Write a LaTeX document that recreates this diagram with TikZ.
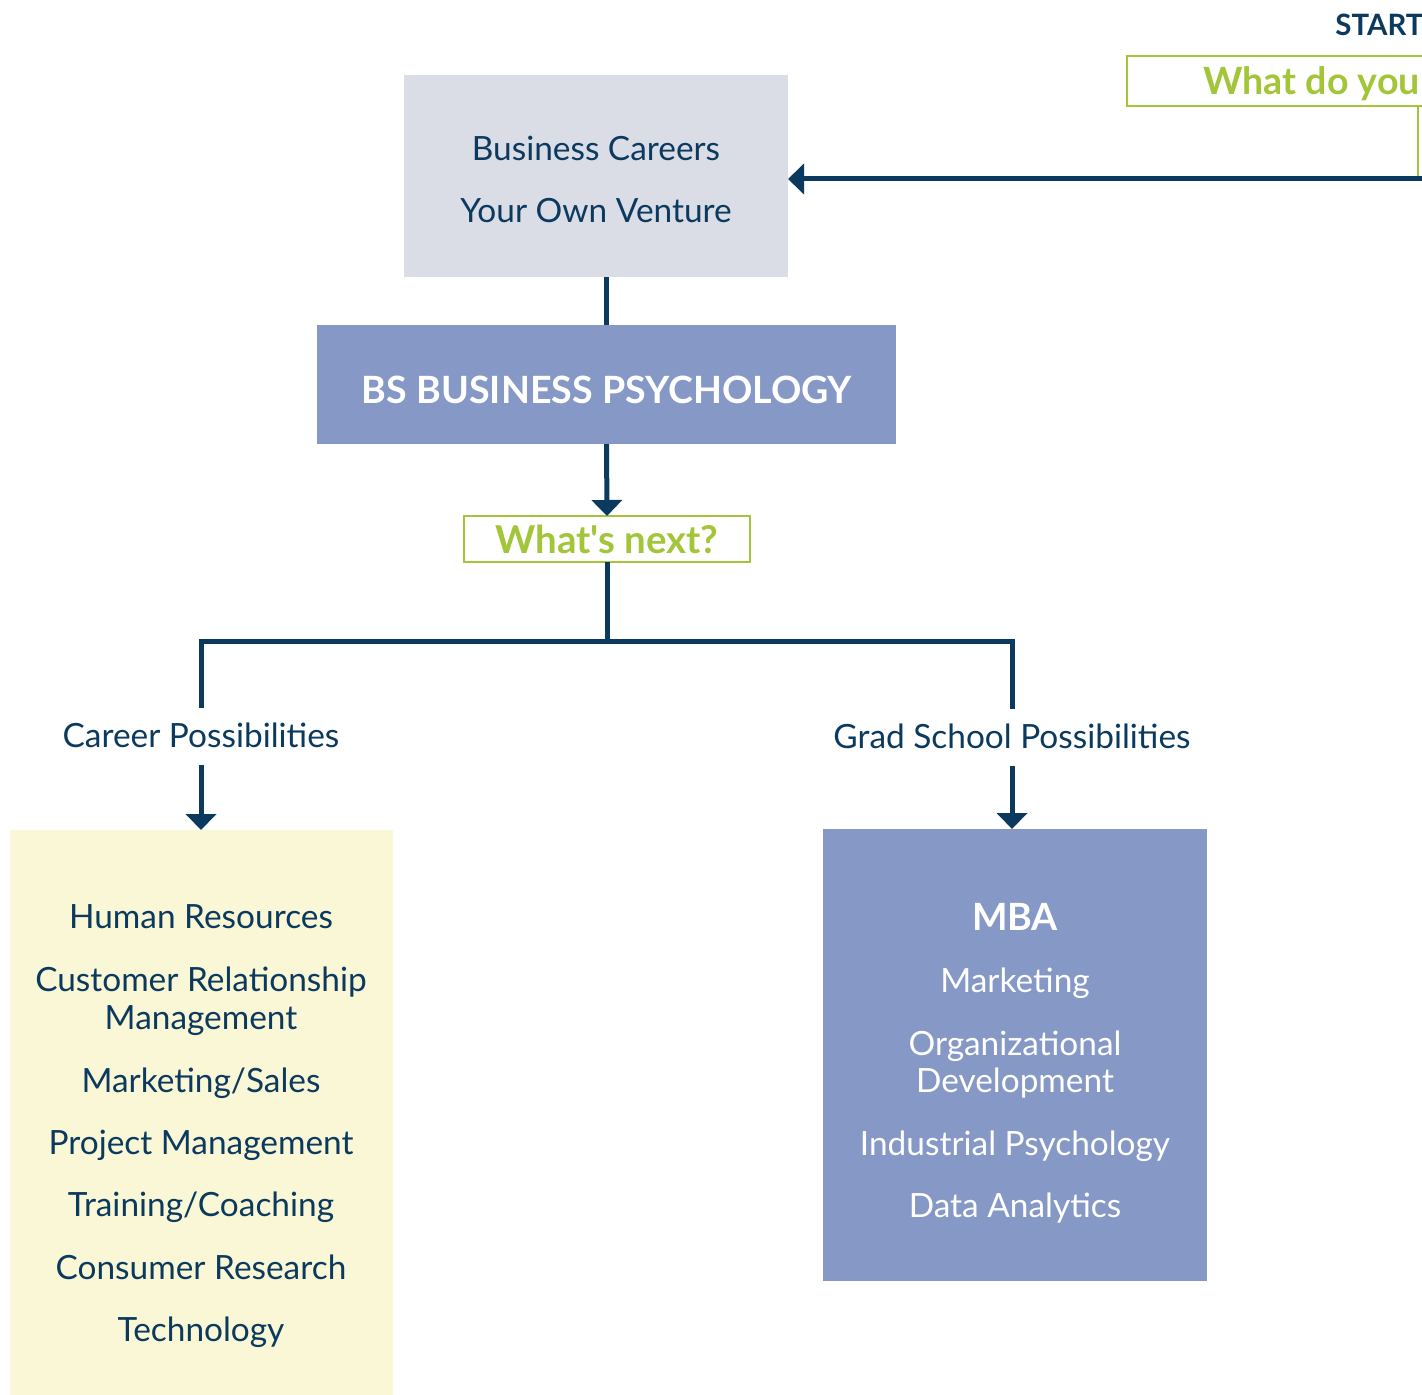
\documentclass[tikz,border=0pt]{standalone}
\usepackage{fontspec}
\setmainfont{Lato}[Ligatures=TeXOff]
\usetikzlibrary{arrows.meta}
\definecolor{navyline}{HTML}{0B3A5E}
\definecolor{greenline}{HTML}{A3C53A}
\definecolor{greybox}{HTML}{DADDE5}
\definecolor{bluebox}{HTML}{8698C6}
\definecolor{yellowbox}{HTML}{FAF7D6}
\begin{document}
\begin{tikzpicture}[x=0.5pt,y=-0.5pt,
        box/.style={anchor=north west,inner sep=0pt,outer sep=0pt},
        item/.style={anchor=base,inner sep=0pt,text=navyline,font=\fontsize{16.7pt}{20pt}\selectfont},
        link/.style={draw=navyline,line width=2.5pt},
        arrowlink/.style={-{Triangle[length=8pt,width=15pt]}}]
    \useasboundingbox (0,0) rectangle (1422,1395);
    \clip (0,0) rectangle (1422,1395);
    % boxes
    \node[box,fill=greybox,minimum width=192pt,minimum height=101pt] (bizbox) at (404,75) {};
    \node[box,fill=bluebox,minimum width=289.5pt,minimum height=59.5pt] (degree) at (317,325) {};
    \node[box,draw=greenline,line width=1.25pt,minimum width=143pt,minimum height=23pt,
        text=greenline,font=\bfseries\fontsize{19.2pt}{22pt}\selectfont] (next) at (464,516) {What's next?};
    \node[box,fill=yellowbox,minimum width=191.5pt,minimum height=290pt] (careers) at (10,830) {};
    \node[box,fill=bluebox,minimum width=192pt,minimum height=226pt] (schools) at (823,829) {};
    \node[box,draw=greenline,line width=1.25pt,minimum width=250pt,minimum height=25pt] (ask) at (1127,56) {};
    % texts
    \node[anchor=base west,inner sep=0pt,text=navyline,font=\bfseries\fontsize{14.7pt}{17pt}\selectfont] (start) at (1335,36) {START};
    \node[anchor=base west,inner sep=0pt,text=greenline,font=\bfseries\fontsize{18.8pt}{22pt}\selectfont] (asktext) at (1203,95) {What do you};
    \node[item] (biz1) at (596,161) {Business Careers};
    \node[item] (biz2) at (596,223) {Your Own Venture};
    \node[anchor=base,inner sep=0pt,text=white,font=\bfseries\fontsize{18.8pt}{23pt}\selectfont] (degtext) at (607,404) {BS BUSINESS PSYCHOLOGY};
    \node[item,inner ysep=7.5pt,text height=12pt,text depth=1.5pt] (career) at (201,747) {Career Possibilities};
    \node[item,inner ysep=7.5pt,text height=12pt,text depth=1.5pt] (grad) at (1012,748) {Grad School Possibilities};
    \foreach \y/\t [count=\i] in {928/Human Resources,991/Customer Relationship,1029/Management,1092/{Marketing/Sales},
            1154/Project Management,1216/{Training/Coaching},1279/Consumer Research,1341/Technology}
        \node[item] (job\i) at (201,\y) {\t};
    \node[anchor=base,inner sep=0pt,text=white,font=\bfseries\fontsize{18.8pt}{22pt}\selectfont] (mba) at (1015,930) {MBA};
    \foreach \y/\t [count=\i] in {992/Marketing,1055/Organizational,1092/Development,1155/Industrial Psychology,1217/Data Analytics}
        \node[item,text=white] (school\i) at (1015,\y) {\t};
    % connectors
    \coordinate (turn) at (1418,179);
    \draw[greenline,line width=1.25pt] (ask.south -| turn) -- (turn);
    \draw[link,arrowlink,shorten <=-3pt] (turn) -- (bizbox.east |- turn);
    \draw[link] (bizbox.south -| degree.north) -- (degree.north);
    \draw[link,arrowlink] (degree.south) -- (next.north);
    \coordinate (fork) at (607,641);
    \draw[link] (next.south) -- (fork);
    \draw[link] (career.north) |- (fork) -| (grad.north);
    \draw[link,arrowlink] (career.south) -- (career.south |- careers.north);
    \draw[link,arrowlink] (grad.south) -- (grad.south |- schools.north);
\end{tikzpicture}
\end{document}
